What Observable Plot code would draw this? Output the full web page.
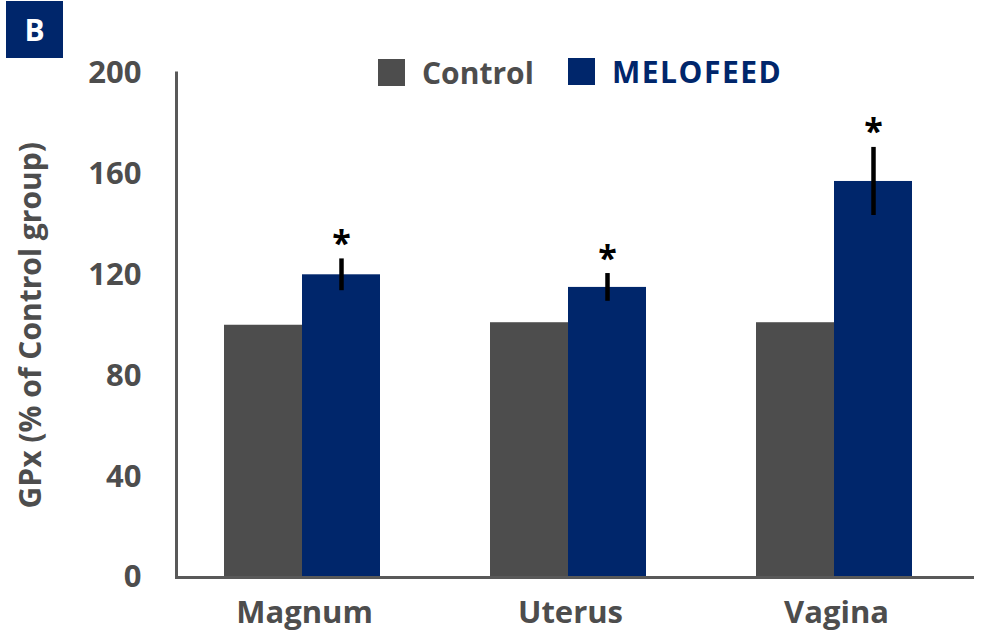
<!DOCTYPE html>
<html>
<head>
<meta charset="utf-8">
<script src="https://cdn.jsdelivr.net/npm/d3@7"></script>
<script src="https://cdn.jsdelivr.net/npm/@observablehq/plot@0.6"></script>
<style>
  html, body { margin: 0; padding: 0; background: #fff; }
  #wrap { position: relative; width: 1000px; height: 641px; font-family: "Open Sans", sans-serif; font-weight: 700; }
  #badge { position: absolute; left: 6px; top: 1px; width: 57px; height: 57px; background: #00266b; color: #fff; font-size: 30px; line-height: 57px; text-align: center; }
  .leg { position: absolute; display: flex; align-items: center; font-size: 30px; }
  .leg .sw { width: 27px; height: 27px; margin-right: 17px; }
  #chart { position: absolute; left: 0; top: 0; }
</style>
</head>
<body>
<div id="wrap">
  <div id="chart"></div>
  <div id="badge">B</div>
  <div id="legend"></div>
</div>
<script>
const categories = ["Magnum", "Uterus", "Vagina"];
const series = ["Control", "MELOFEED"];
const controlValues = [100, 101, 101];
const melofeedValues = [120, 115, 157];
const melofeedErrors = [6.3, 5.5, 13.5];
const significance = ["*", "*", "*"];
const yTicks = [0, 40, 80, 120, 160, 200];
const colors = ["#4d4d4d", "#00266b"];
const textGray = "#4d4d4d";

const rows = [];
categories.forEach((c, i) => {
  rows.push({category: c, series: "Control", value: controlValues[i]});
  rows.push({category: c, series: "MELOFEED", value: melofeedValues[i], err: melofeedErrors[i], sig: significance[i]});
});
const errRows = rows.filter(d => d.err != null);

const plot = Plot.plot({
  width: 1000,
  height: 641,
  marginTop: 72.5,
  marginBottom: 64,
  marginLeft: 175,
  marginRight: 25,
  style: {fontFamily: "'Open Sans', sans-serif", fontWeight: 700, color: textGray, background: "transparent"},
  fx: {domain: categories, padding: 0, label: null},
  x: {domain: series, paddingInner: 0, paddingOuter: 0.688, align: 0.44, axis: null},
  y: {domain: [0, 200]},
  color: {domain: series, range: colors},
  marks: [
    Plot.barY(rows, {fx: "category", x: "series", y: "value", fill: "series", inset: 0}),
    Plot.ruleX(errRows, {fx: "category", x: "series", y1: d => d.value - d.err, y2: d => d.value + d.err, stroke: "#000", strokeWidth: 4.5}),
    Plot.text(errRows, {fx: "category", x: "series", y: d => d.value + d.err, text: "sig", dy: -4, lineAnchor: "bottom", fontSize: 34, fontWeight: 700, fill: "#000"}),
    Plot.ruleY([0], {stroke: "#595959", strokeWidth: 3}),
    Plot.frame({anchor: "left", facetAnchor: "left", stroke: "#595959", strokeWidth: 3}),
    Plot.axisY({ticks: yTicks, tickSize: 0, tickPadding: 35, fontSize: 31, fontWeight: 700, fill: textGray,
      label: "GPx (% of Control group)", labelAnchor: "center", labelOffset: 157, labelArrow: "none"}),
    Plot.axisFx({anchor: "bottom", tickSize: 0, tickPadding: 23, dx: -5, fontSize: 31, fontWeight: 700, fill: textGray, label: null})
  ]
});
document.getElementById("chart").appendChild(plot);

// size the y-axis label
plot.querySelectorAll("g[aria-label='y-axis label'] text").forEach(t => { t.setAttribute("font-size", 30); });

const legend = document.getElementById("legend");
const legPos = [{left: 378, top: 52}, {left: 568, top: 51}];
const legTextColor = [textGray, "#00266b"];
const legSpacing = ["0px", "1.5px"];
series.forEach((s, i) => {
  const item = document.createElement("div");
  item.className = "leg";
  item.style.left = legPos[i].left + "px";
  item.style.top = legPos[i].top + "px";
  item.style.color = legTextColor[i];
  const sw = document.createElement("div");
  sw.className = "sw";
  sw.style.background = colors[i];
  item.appendChild(sw);
  const label = document.createElement("span");
  label.textContent = s;
  label.style.letterSpacing = legSpacing[i];
  item.appendChild(label);
  legend.appendChild(item);
});
</script>
</body>
</html>
